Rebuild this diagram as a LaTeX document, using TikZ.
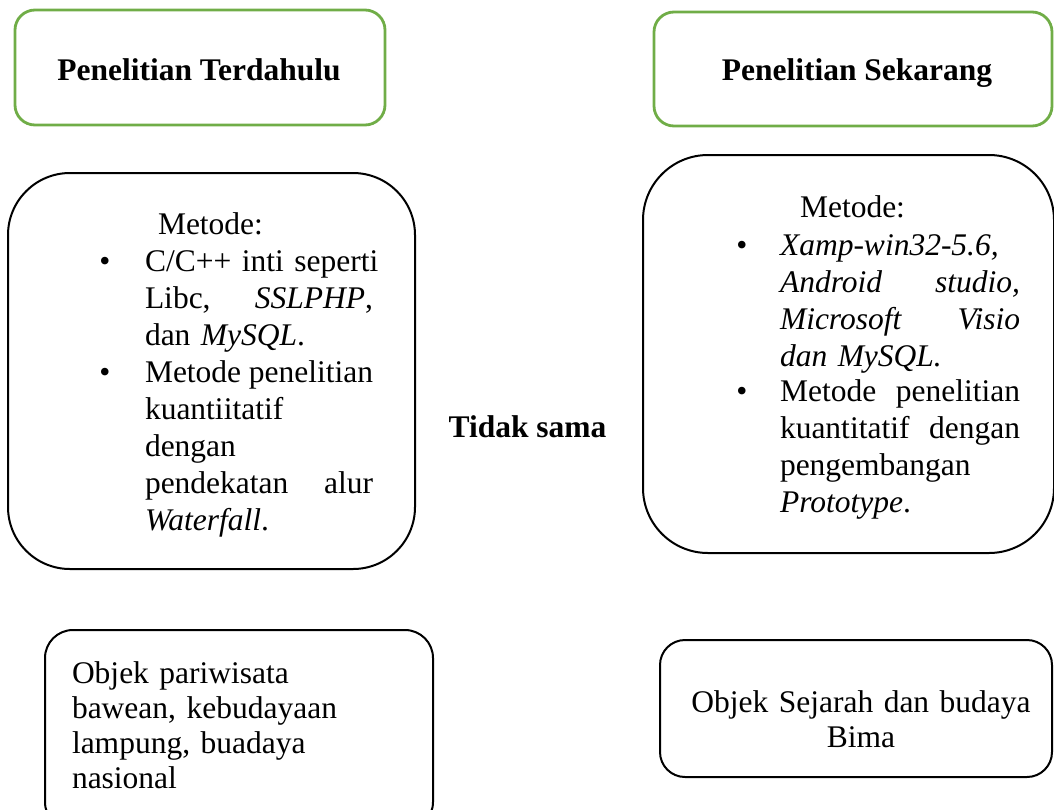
\documentclass[tikz,border=0pt]{standalone}
\usepackage{fontspec}
\setmainfont{Liberation Serif}
% a line spread out to a fixed width, the gaps given by \hfill
\newcommand{\jfull}[2]{\leavevmode\hbox to #1{#2}}
\begin{document}
\begin{tikzpicture}[x=1pt,y=-1pt,
  bodyfont/.style={font=\fontsize{31.5}{37}\selectfont},
  txt/.style={bodyfont, inner sep=0pt, outer sep=0pt},
  greenbox/.style={draw=greenline, line width=2.8pt, rounded corners=20pt, inner sep=0pt},
  blackbox/.style={draw=black, line width=2pt, inner sep=0pt},
]
\definecolor{greenline}{HTML}{70AD47}
\useasboundingbox (0,0) rectangle (1054,809);
\clip (0,0) rectangle (1054,809);

% frames
\node[greenbox, minimum width=370pt, minimum height=115pt] (hdrL) at (200,67.5) {};
\node[greenbox, minimum width=398pt, minimum height=114pt] (hdrR) at (853,69) {};
\node[blackbox, rounded corners=62pt, minimum width=407pt, minimum height=396pt] (metL) at (211.5,371) {};
\node[blackbox, rounded corners=65pt, minimum width=411pt, minimum height=398pt] (metR) at (848.5,354) {};
\node[blackbox, rounded corners=28pt, minimum width=388pt, minimum height=200pt] (objL) at (239,730) {};
\node[blackbox, rounded corners=25pt, minimum width=392pt, minimum height=137pt] (objR) at (856,708.5) {};

% headings
\node[txt, anchor=base, font=\fontsize{31.5}{37}\selectfont\bfseries] (hdrLtext) at (199,80) {Penelitian Terdahulu};
\node[txt, anchor=base, font=\fontsize{31.5}{37}\selectfont\bfseries] (hdrRtext) at (857,80) {Penelitian Sekarang};

% middle label
\node[txt, anchor=base, font=\fontsize{31.5}{37}\selectfont\bfseries] (cmp) at (527.5,437) {Tidak sama};

% left method list
\node[txt, anchor=base west] (metLhead) at (158,234) {Metode:};
\node[txt, anchor=base] (bulL1) at (105,271) {•};
\node[txt, anchor=base west, text width=250pt, align=left] (itemL1) at (145,271)
  {\jfull{228pt}{C/C++ inti seperti}\\
   \jfull{228pt}{Libc,\hfill\textit{SSLPHP},}\\
   dan \textit{MySQL}.};
\node[txt, anchor=base] (bulL2) at (105,382) {•};
\node[txt, anchor=base west, text width=250pt, align=left] (itemL2) at (145,382)
  {\jfull{228pt}{Metode\hfill penelitian}\\
   kuantiitatif\\
   dengan\\
   \jfull{228pt}{pendekatan\hfill alur}\\
   \textit{Waterfall}.};

% right method list
\node[txt, anchor=base west] (metRhead) at (800,217) {Metode:};
\node[txt, anchor=base] (bulR1) at (742,255) {•};
\node[txt, anchor=base west, text width=250pt, align=left] (itemR1) at (780,255)
  {\textit{Xamp-win32-5.6,}\\
   \jfull{240pt}{\textit{Android}\hfill\textit{studio,}}\\
   \jfull{240pt}{\textit{Microsoft}\hfill\textit{Visio}}\\
   \textit{dan MySQL.}};
\node[txt, anchor=base] (bulR2) at (742,401) {•};
\node[txt, anchor=base west, text width=250pt, align=left] (itemR2) at (780,401)
  {\jfull{240pt}{Metode\hfill penelitian}\\
   \jfull{240pt}{kuantitatif\hfill dengan}\\
   pengembangan\\
   \textit{Prototype}.};

% objects
\node[txt, anchor=base west, text width=360pt, align=left, font=\fontsize{31.5}{35}\selectfont] (objLtext) at (72,683)
  {Objek pariwisata\\
   bawean, kebudayaan\\
   lampung, buadaya\\
   nasional};
\node[txt, anchor=base, text width=380pt, align=center, font=\fontsize{31.5}{35}\selectfont] (objRtext) at (861,712)
  {Objek Sejarah dan budaya\\
   Bima};
\end{tikzpicture}
\end{document}
